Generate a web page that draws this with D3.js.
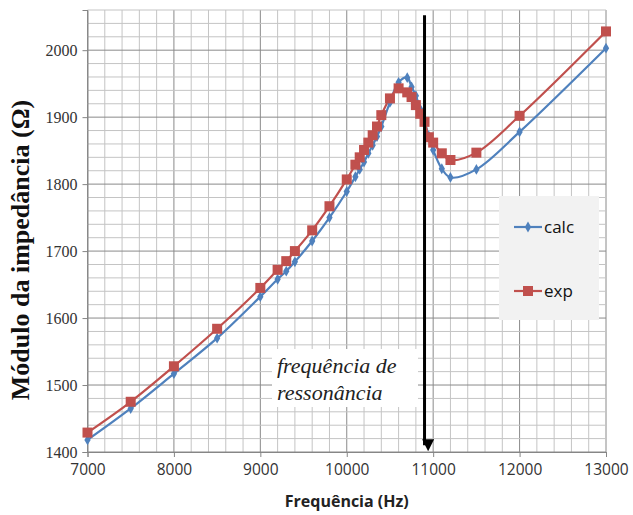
<!DOCTYPE html>
<html>
<head>
<meta charset="utf-8">
<script src="https://cdn.jsdelivr.net/npm/d3@7"></script>
<style>
  body { margin: 0; background: #fff; }
  svg { display: block; }
</style>
</head>
<body>
<div id="chart"></div>
<script>
// frequências medidas (Hz)
const freq = [7000, 7500, 8000, 8500, 9000, 9200, 9300, 9400, 9600, 9800,
  10000, 10100, 10150, 10200, 10250, 10300, 10350, 10400, 10500, 10600,
  10700, 10750, 10800, 10850, 10900, 10950, 11000, 11100, 11200, 11500, 12000, 13000];
const calc = [1418, 1465, 1517, 1570, 1632, 1658, 1670, 1684, 1715, 1750,
  1789, 1811, 1822, 1833, 1846, 1858, 1871, 1886, 1922, 1952,
  1959, 1945, 1932, 1912, 1893, 1872, 1851, 1823, 1810, 1822, 1878, 2003];
const exp = [1429, 1475, 1528, 1584, 1645, 1672, 1685, 1700, 1731, 1767,
  1807, 1829, 1840, 1851, 1862, 1873, 1886, 1903, 1928, 1943,
  1937, 1930, 1918, 1905, 1893, 1870, 1862, 1846, 1836, 1847, 1902, 2028];
const xTicks = [7000, 8000, 9000, 10000, 11000, 12000, 13000];
const yTicks = [1400, 1500, 1600, 1700, 1800, 1900, 2000];
const resonance = 10900;

const width = 633, height = 515;
const margin = { top: 10, right: 27, bottom: 63, left: 87.5 };

const svg = d3.select('#chart').append('svg')
  .attr('width', width)
  .attr('height', height);

const x = d3.scaleLinear().domain([7000, 13000]).range([margin.left, width - margin.right]);
const y = d3.scaleLinear().domain([1400, 2060]).range([height - margin.bottom, margin.top]);

// grade
const grid = svg.append('g');
grid.selectAll('.vx').data(d3.range(7000, 13001, 200)).enter().append('line')
  .attr('x1', d => x(d)).attr('x2', d => x(d))
  .attr('y1', y(1400)).attr('y2', y(2060))
  .attr('stroke', d => d % 1000 === 0 ? '#8a8a8a' : '#c4c4c4')
  .attr('stroke-width', 1);
grid.selectAll('.hy').data(d3.range(1400, 2061, 20)).enter().append('line')
  .attr('x1', x(7000)).attr('x2', x(13000))
  .attr('y1', d => y(d)).attr('y2', d => y(d))
  .attr('stroke', d => d % 100 === 0 ? '#8a8a8a' : '#c4c4c4')
  .attr('stroke-width', 1);

// eixos
const xAxis = svg.append('g')
  .attr('transform', `translate(0,${y(1400)})`)
  .call(d3.axisBottom(x).tickValues(xTicks).tickSize(5).tickPadding(7).tickFormat(d3.format('d')));
const yAxis = svg.append('g')
  .attr('transform', `translate(${x(7000)},0)`)
  .call(d3.axisLeft(y).tickValues(yTicks).tickSize(5).tickPadding(5).tickFormat(d3.format('d')));
[xAxis, yAxis].forEach(a => {
  a.select('.domain').attr('stroke', '#868686');
  a.selectAll('.tick line').attr('stroke', '#868686');
  a.selectAll('.tick text').attr('fill', '#333');
});
xAxis.selectAll('.tick text')
  .style('font-family', '"Open Sans", "Liberation Sans", sans-serif')
  .style('font-size', '15.5px');
yAxis.selectAll('.tick text')
  .style('font-family', '"Liberation Serif", "Times New Roman", serif')
  .style('font-size', '16px');

// anotação da ressonância
svg.append('rect')
  .attr('x', 272).attr('y', 349)
  .attr('width', 146).attr('height', 58)
  .attr('fill', '#fff');
const ann = svg.append('text')
  .style('font-family', '"Liberation Serif", "Times New Roman", serif')
  .style('font-style', 'italic')
  .style('font-size', '22px')
  .attr('fill', '#222');
ann.append('tspan').attr('x', 277).attr('y', 373).text('frequência de');
ann.append('tspan').attr('x', 277).attr('y', 400).text('ressonância');

// séries
const line = d3.line().curve(d3.curveCatmullRom.alpha(0.5));
const blue = '#4f81bd', red = '#c0504d';

svg.append('path')
  .datum(freq.map((f, i) => [x(f), y(calc[i])]))
  .attr('d', line).attr('fill', 'none')
  .attr('stroke', blue).attr('stroke-width', 2.2);
svg.append('path')
  .datum(freq.map((f, i) => [x(f), y(exp[i])]))
  .attr('d', line).attr('fill', 'none')
  .attr('stroke', red).attr('stroke-width', 2.2);

const diamond = d3.symbol().type(d3.symbolDiamond).size(34);
svg.append('g').selectAll('path').data(freq).enter().append('path')
  .attr('d', diamond)
  .attr('transform', (f, i) => `translate(${x(f)},${y(calc[i])})`)
  .attr('fill', blue);
svg.append('g').selectAll('rect').data(freq).enter().append('rect')
  .attr('x', f => x(f) - 5).attr('y', (f, i) => y(exp[i]) - 5)
  .attr('width', 10).attr('height', 10)
  .attr('fill', red);

// seta
svg.append('defs').append('marker')
  .attr('id', 'arrow')
  .attr('viewBox', '0 0 10 10')
  .attr('refX', 5).attr('refY', 8)
  .attr('markerWidth', 4).attr('markerHeight', 4)
  .attr('orient', 'auto-start-reverse')
  .append('path').attr('d', 'M0,0 L10,5 L0,10 z').attr('fill', '#000');
svg.append('line')
  .attr('x1', x(resonance)).attr('x2', x(resonance))
  .attr('y1', y(2052)).attr('y2', y(1410))
  .attr('stroke', '#000').attr('stroke-width', 3)
  .attr('marker-end', 'url(#arrow)');

// legenda
const lg = svg.append('g');
lg.append('rect')
  .attr('x', 499).attr('y', 196).attr('width', 100).attr('height', 124)
  .attr('fill', '#f2f2f2');
[{ name: 'calc', color: blue, sym: 'd', yy: 227 }, { name: 'exp', color: red, sym: 's', yy: 291 }].forEach(it => {
  lg.append('line').attr('x1', 514).attr('x2', 542).attr('y1', it.yy).attr('y2', it.yy)
    .attr('stroke', it.color).attr('stroke-width', 2.2);
  if (it.sym === 'd') {
    lg.append('path').attr('d', diamond).attr('transform', `translate(528,${it.yy})`).attr('fill', it.color);
  } else {
    lg.append('rect').attr('x', 523).attr('y', it.yy - 5).attr('width', 10).attr('height', 10).attr('fill', it.color);
  }
  lg.append('text').attr('x', 544).attr('y', it.yy + 6)
    .style('font-family', '"Open Sans", "Liberation Sans", sans-serif')
    .style('font-size', '17px')
    .attr('fill', '#111')
    .text(it.name);
});

// títulos dos eixos
svg.append('text')
  .attr('transform', `translate(29,250) rotate(-90)`)
  .attr('text-anchor', 'middle')
  .style('font-family', '"Liberation Serif", "Times New Roman", serif')
  .style('font-weight', 'bold')
  .style('font-size', '26px')
  .attr('fill', '#111')
  .text('Módulo da impedância (Ω)');
svg.append('text')
  .attr('x', (x(7000) + x(13000)) / 2)
  .attr('y', 507)
  .attr('text-anchor', 'middle')
  .style('font-family', '"Open Sans", "Liberation Sans", sans-serif')
  .style('font-weight', 'bold')
  .style('font-size', '16px')
  .attr('fill', '#222')
  .text('Frequência (Hz)');
</script>
</body>
</html>
